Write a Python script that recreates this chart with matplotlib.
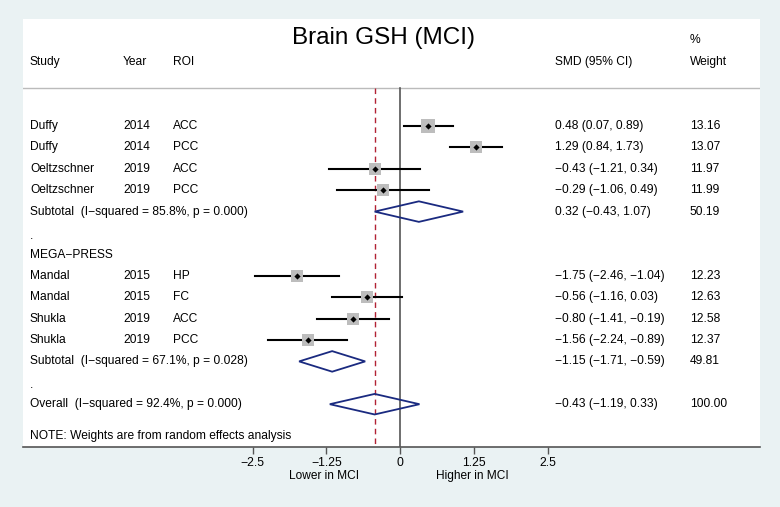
import matplotlib
matplotlib.use("Agg")
import matplotlib.pyplot as plt
from matplotlib.patches import Polygon

plt.rcParams['font.family'] = ['Liberation Sans', 'DejaVu Sans']

# ---- data ----
studies = ["Duffy", "Duffy", "Oeltzschner", "Oeltzschner", "Mandal", "Mandal", "Shukla", "Shukla"]
years = ["2014", "2014", "2019", "2019", "2015", "2015", "2019", "2019"]
rois = ["ACC", "PCC", "ACC", "PCC", "HP", "FC", "ACC", "PCC"]
smd = [0.48, 1.29, -0.43, -0.29, -1.75, -0.56, -0.80, -1.56]
lo = [0.07, 0.84, -1.21, -1.06, -2.46, -1.16, -1.41, -2.24]
hi = [0.89, 1.73, 0.34, 0.49, -1.04, 0.03, -0.19, -0.89]
weights = [13.16, 13.07, 11.97, 11.99, 12.23, 12.63, 12.58, 12.37]

sub_labels = ["Subtotal  (I\u2212squared = 85.8%, p = 0.000)",
              "Subtotal  (I\u2212squared = 67.1%, p = 0.028)"]
sub_smd = [0.32, -1.15]
sub_lo = [-0.43, -1.71]
sub_hi = [1.07, -0.59]
sub_w = [50.19, 49.81]

overall_label = "Overall  (I\u2212squared = 92.4%, p = 0.000)"
overall_smd = -0.43
overall_lo = -1.19
overall_hi = 0.33
overall_w = 100.00

group2_label = "MEGA\u2212PRESS"
xticks = [-2.5, -1.25, 0, 1.25, 2.5]
xtick_labels = ["\u22122.5", "\u22121.25", "0", "1.25", "2.5"]

def fmt(v):
    s = f"{v:.2f}"
    return s.replace("-", "\u2212")

# ---- layout ----
W, H = 780, 507
fig = plt.figure(figsize=(W / 100, H / 100), dpi=100)
fig.patch.set_facecolor("#eaf2f3")
px_l, px_r, px_t, px_b = 23, 760, 19, 447
ax = fig.add_axes([px_l / W, (H - px_b) / H, (px_r - px_l) / W, (px_b - px_t) / H])
ax.set_facecolor("white")
x0px, ppu = 400, 59.0
ax.set_xlim((px_l - x0px) / ppu, (px_r - x0px) / ppu)
row0, rs = 126, 21.4
ax.set_ylim((px_b - row0) / rs, (px_t - row0) / rs)

for s in ["top", "right", "left"]:
    ax.spines[s].set_visible(False)
ax.spines["bottom"].set_color("#555555")
ax.spines["bottom"].set_linewidth(1.2)
ax.set_yticks([])
ax.set_xticks(xticks)
ax.set_xticklabels(xtick_labels, fontsize=8.8)
ax.tick_params(axis="x", length=5, width=1, color="#555555", pad=2)

# row positions
study_rows = [0, 1, 2, 3, 7.0, 8.0, 9.0, 10.0]
sub_rows = [4, 11.0]
dot_rows = [5.15, 12.1]
group_row = 6.03
overall_row = 13.0
note_row = 14.5
header_row = -3.0
sep_row = -1.78

fs = 8.65
tx = ax.get_yaxis_transform()  # x in axes fraction, y in data

def colx(px):
    return (px - px_l) / (px_r - px_l)

# header
ax.text(colx(383), -4.1, "Brain GSH (MCI)", fontsize=17.5, ha="center", va="center", transform=tx)
ax.text(colx(30), header_row, "Study", fontsize=fs, va="center", transform=tx)
ax.text(colx(123), header_row, "Year", fontsize=fs, va="center", transform=tx)
ax.text(colx(173), header_row, "ROI", fontsize=fs, va="center", transform=tx)
ax.text(colx(555), header_row, "SMD (95% CI)", fontsize=fs, va="center", transform=tx)
ax.text(colx(690), header_row, "Weight", fontsize=fs, va="center", transform=tx)
ax.text(colx(690), -4.0, "%", fontsize=fs, va="center", transform=tx)
ax.axhline(sep_row, color="#bbbbbb", lw=1)

# reference lines
ax.plot([0, 0], [sep_row, ax.get_ylim()[0]], color="#555555", lw=1.2, zorder=2)
ax.plot([overall_smd, overall_smd], [sep_row, ax.get_ylim()[0]], color="#b22234",
        lw=1, ls=(0, (4, 3)), zorder=2)

# studies
for i in range(len(studies)):
    r = study_rows[i]
    ax.text(colx(30), r, studies[i], fontsize=fs, va="center", transform=tx)
    ax.text(colx(123), r, years[i], fontsize=fs, va="center", transform=tx)
    ax.text(colx(173), r, rois[i], fontsize=fs, va="center", transform=tx)
    ax.text(colx(555), r, f"{fmt(smd[i])} ({fmt(lo[i])}, {fmt(hi[i])})", fontsize=fs,
            va="center", transform=tx)
    ax.text(colx(690), r, f"{weights[i]:.2f}", fontsize=fs, va="center", transform=tx)
    ax.plot([lo[i], hi[i]], [r, r], color="black", lw=1.5, zorder=3)
    side = (weights[i] / 13.16) ** 0.5 * 13
    ax.scatter([smd[i]], [r], marker="s", s=side ** 2 * 0.52, color="#bdbdbd", zorder=3, linewidths=0)
    ax.scatter([smd[i]], [r], marker="D", s=10, color="black", zorder=4, linewidths=0)

def diamond(c, l, h, r):
    hh = 0.48
    poly = Polygon([[l, r], [c, r - hh], [h, r], [c, r + hh]], closed=True,
                   facecolor="none", edgecolor="#1a2a80", lw=1.3, zorder=4)
    ax.add_patch(poly)

for j in range(2):
    r = sub_rows[j]
    ax.text(colx(30), r, sub_labels[j], fontsize=fs, va="center", transform=tx)
    ax.text(colx(555), r, f"{fmt(sub_smd[j])} ({fmt(sub_lo[j])}, {fmt(sub_hi[j])})",
            fontsize=fs, va="center", transform=tx)
    ax.text(colx(690), r, f"{sub_w[j]:.2f}", fontsize=fs, va="center", transform=tx)
    diamond(sub_smd[j], sub_lo[j], sub_hi[j], r)

for r in dot_rows:
    ax.text(colx(30), r, ".", fontsize=fs, va="center", transform=tx)
ax.text(colx(30), group_row, group2_label, fontsize=fs, va="center", transform=tx)

ax.text(colx(30), overall_row, overall_label, fontsize=fs, va="center", transform=tx)
ax.text(colx(555), overall_row, f"{fmt(overall_smd)} ({fmt(overall_lo)}, {fmt(overall_hi)})",
        fontsize=fs, va="center", transform=tx)
ax.text(colx(690), overall_row, f"{overall_w:.2f}", fontsize=fs, va="center", transform=tx)
diamond(overall_smd, overall_lo, overall_hi, overall_row)

ax.text(colx(30), note_row, "NOTE: Weights are from random effects analysis", fontsize=fs,
        va="center", transform=tx)

# axis side labels
fig.text((x0px - 1.28 * ppu) / W, 1 - 476 / H, "Lower in MCI", fontsize=8.6, ha="center", va="center")
fig.text((x0px + 1.22 * ppu) / W, 1 - 476 / H, "Higher in MCI", fontsize=8.6, ha="center", va="center")

fig.savefig("out.png", dpi=100, facecolor=fig.get_facecolor())
